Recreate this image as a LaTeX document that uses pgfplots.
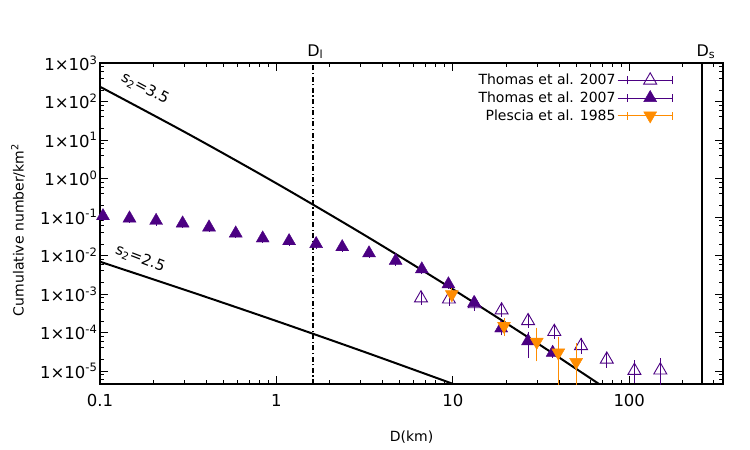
\documentclass[border=0pt]{standalone}
\usepackage{pgfplots}
\pgfplotsset{compat=1.18}
\usepackage{fontspec}
\setmainfont{DejaVu Sans}
\definecolor{tpurple}{RGB}{75,0,130}
\definecolor{porange}{RGB}{255,140,0}
\pgfplotsset{errlegend/.style={legend image code/.code={
  \path (0bp,0bp) -- (55bp,0bp);
  \draw[##1, mark=none, solid, line width=0.8bp] (10bp,0bp) -- (55bp,0bp);
  \draw[##1, mark=none, solid, line width=0.8bp] (10bp,-4bp) -- (10bp,4bp) (55bp,-4bp) -- (55bp,4bp);
  \draw[##1] plot coordinates {(32.5bp,0bp)};
}}}
\begin{document}
\begin{tikzpicture}[font=\fontsize{14bp}{16bp}\selectfont]
\useasboundingbox (-100bp,-66bp) rectangle (650bp,384bp);
\begin{axis}[
  at={(0,0)}, anchor=south west,
  scale only axis, width=623bp, height=321bp,
  xmode=log, ymode=log,
  xmin=0.1, xmax=340, ymin=4.6e-6, ymax=1e3,
  xtick={0.1,1,10,100}, xticklabels={0.1,1,10,100},
  minor xtick={0.2,0.3,0.4,0.5,0.6,0.7,0.8,0.9,2,3,4,5,6,7,8,9,20,30,40,50,60,70,80,90,200,300},
  ytick={1e-5,1e-4,1e-3,1e-2,1e-1,1,10,100,1000},
  yticklabels={1×10\textsuperscript{-5},1×10\textsuperscript{-4},1×10\textsuperscript{-3},1×10\textsuperscript{-2},1×10\textsuperscript{-1},1×10\textsuperscript{0},1×10\textsuperscript{1},1×10\textsuperscript{2},1×10\textsuperscript{3}},
  minor ytick={2e-6,4e-6,6e-6,8e-6,2e-5,4e-5,6e-5,8e-5,2e-4,4e-4,6e-4,8e-4,2e-3,4e-3,6e-3,8e-3,2e-2,4e-2,6e-2,8e-2,0.2,0.4,0.6,0.8,2,4,6,8,20,40,60,80,200,400,600,800},
  tick align=inside,
  major tick length=8bp, minor tick length=4bp,
  every tick/.style={black, line width=0.8bp},
  axis line style={line width=1.3bp},
  tick label style={font=\fontsize{16.5bp}{18bp}\selectfont},
  xticklabel style={yshift=-7bp},
  yticklabel style={xshift=1bp},
  xlabel={D(km)}, ylabel={Cumulative number/km\textsuperscript{2}},
  xlabel style={at={(axis description cs:0.5,-0.165)}, anchor=center},
  ylabel style={at={(axis description cs:-0.1316,0.48)}, anchor=center},
  legend plot pos=right,
  legend cell align=right,
  legend style={draw=none, fill=none, at={(axis description cs:0.925,0.978)}, anchor=north east, row sep=1.5bp},
  clip mode=individual,
]
% power-law reference lines
\addplot[black, line width=2bp, smooth, forget plot] coordinates {
 (0.1,242) (0.3162,14.4) (1,0.748) (3.162,0.0338) (10,1.33e-3) (31.62,4.56e-5) (79.4,2.78e-6)};
\addplot[black, line width=2bp, smooth, forget plot] coordinates {
 (0.1,6.9e-3) (0.3162,1.20e-3) (1,1.99e-4) (3.162,3.12e-5) (10,4.65e-6) (12.6,3.15e-6)};
% D_l and D_s
\addplot[black, line width=1.8bp, dash pattern=on 5bp off 2.5bp on 1.2bp off 2.5bp, forget plot] coordinates {(1.62,4.6e-6) (1.62,1e3)};
\addplot[black, line width=2bp, forget plot] coordinates {(258,4.6e-6) (258,1e3)};

% Thomas et al. 2007 (open)
\addplot[errlegend, only marks, color=tpurple, mark=triangle, mark size=7.5bp, mark options={line width=0.9bp},
  error bars/.cd, y dir=both, y explicit, error bar style={line width=0.8bp}, error mark options={mark size=5bp, line width=0.8bp}]
 coordinates {
 (6.6,7.8e-4) +- (0,6e-5)
 (9.5,7.3e-4) +- (0,6e-5)
 (13.3,5.5e-4) +- (0,5e-5)
 (18.9,3.8e-4) +- (0,4e-5)
 (26.7,2.0e-4) +- (0,2.2e-5)
 (37.6,1.05e-4) +- (0,1.3e-5)
 (53.3,4.5e-5) +- (0,7e-6)
 (74.6,2.0e-5) +- (0,3.5e-6)
 (107,1.02e-5) += (0,4e-6) -= (0,3.6e-6)
 (150,1.05e-5) += (0,5.5e-6) -= (0,5.2e-6)
 };
\addlegendentry{Thomas et al. 2007}
% Thomas et al. 2007 (filled)
\addplot[errlegend, only marks, color=tpurple, mark=triangle*, mark size=7.5bp,
  error bars/.cd, y dir=both, y explicit, error bar style={line width=0.8bp}, error mark options={mark size=5bp, line width=0.8bp}]
 coordinates {
 (0.104,0.106) +- (0,0)
 (0.147,0.0925) +- (0,0)
 (0.208,0.080) +- (0,0)
 (0.294,0.0686) +- (0,0)
 (0.415,0.054) +- (0,0)
 (0.588,0.0377) +- (0,0)
 (0.836,0.028) +- (0,0)
 (1.18,0.0238) +- (0,0)
 (1.68,0.020) +- (0,0)
 (2.36,0.0166) +- (0,0)
 (3.35,0.0115) +- (0,0)
 (4.74,0.0073) +- (0,0)
 (6.67,0.0044) +- (0,0)
 (9.44,0.0018) +- (0,0)
 (13.2,5.9e-4) +- (0,0)
 (18.8,1.29e-4) +- (0,1.5e-5)
 (26.7,6.0e-5) += (0,1.8e-5) -= (0,3.1e-5)
 (36.8,3.0e-5) +- (0,0)
 };
\addlegendentry{Thomas et al. 2007}
% Plescia et al. 1985
\addplot[errlegend, only marks, color=porange, mark=triangle*, mark size=7.5bp, mark options={rotate=180},
  error bars/.cd, y dir=both, y explicit, error bar style={line width=0.8bp}, error mark options={mark size=5bp, line width=0.8bp}]
 coordinates {
 (9.87,9.8e-4) +- (0,8e-5)
 (19.5,1.48e-4) += (0,2.5e-5) -= (0,4e-5)
 (29.9,5.7e-5) += (0,4.3e-5) -= (0,3.3e-5)
 (39.6,3.0e-5) += (0,2.8e-5) -= (0,2.99e-5)
 (50,1.7e-5) += (0,2.2e-5) -= (0,1.69e-5)
 };
\addlegendentry{Plescia et al. 1985}

\node[anchor=base, font=\fontsize{16bp}{18bp}\selectfont] at (axis cs:1.66,1e3) [yshift=7bp] {D\textsubscript{l}};
\node[anchor=base, font=\fontsize{16bp}{18bp}\selectfont] at (axis cs:272,1e3) [yshift=7bp] {D\textsubscript{s}};
\node[rotate=-28, font=\fontsize{15bp}{17bp}\selectfont] at (axis cs:0.18,215) {s\textsubscript{2}=3.5};
\node[rotate=-21, font=\fontsize{15bp}{17bp}\selectfont] at (axis cs:0.169,8.2e-3) {s\textsubscript{2}=2.5};
\end{axis}
\end{tikzpicture}
\end{document}
